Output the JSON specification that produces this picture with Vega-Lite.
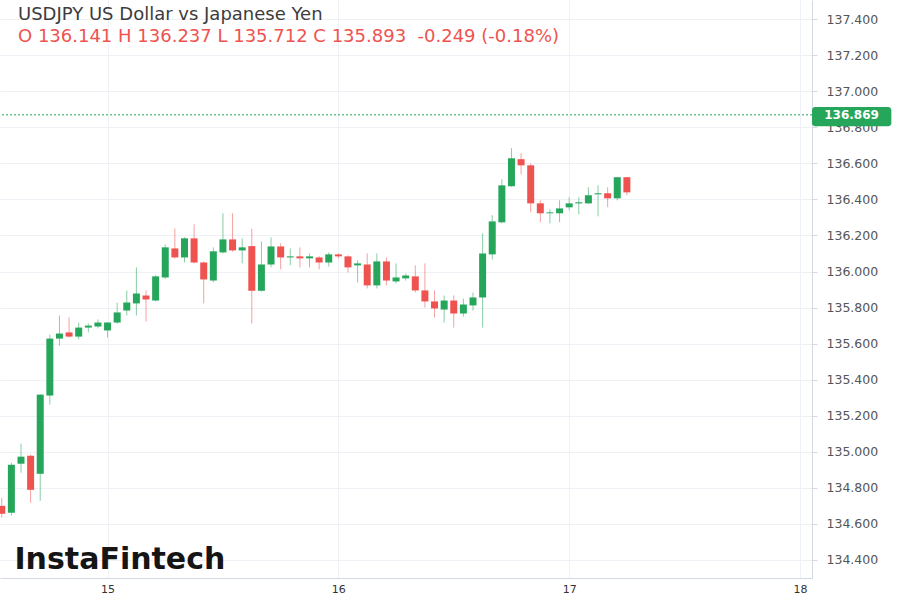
{
  "$schema": "https://vega.github.io/schema/vega-lite/v6.json",
  "width": 812,
  "height": 578,
  "padding": {"left": 0, "top": 0, "right": 88, "bottom": 22},
  "autosize": {"type": "none"},
  "background": "white",
  "title": {
    "text": "USDJPY US Dollar vs Japanese Yen",
    "subtitle": "O 136.141 H 136.237 L 135.712 C 135.893\u00a0 -0.249 (-0.18%)",
    "anchor": "start",
    "frame": "group",
    "orient": "top",
    "offset": -46,
    "dx": 18,
    "font": "DejaVu Sans",
    "fontSize": 18,
    "fontWeight": "normal",
    "color": "#3c3c3c",
    "subtitleFont": "DejaVu Sans",
    "subtitleFontSize": 18,
    "subtitleColor": "#ef5350",
    "subtitlePadding": 4
  },
  "config": {
    "view": {"stroke": null},
    "axis": {"gridColor": "#eef1f6", "domainColor": "#d3d9e3", "tickColor": "#d3d9e3", "labelFont": "DejaVu Sans", "title": null},
    "axisY": {"labelOverlap": false}
  },
  "data": {
    "values": [
      {"t": "2022-06-14T13:00:00Z", "o": 134.700, "h": 134.745, "l": 134.634, "c": 134.656},
      {"t": "2022-06-14T14:00:00Z", "o": 134.662, "h": 134.939, "l": 134.645, "c": 134.928},
      {"t": "2022-06-14T15:00:00Z", "o": 134.934, "h": 135.045, "l": 134.884, "c": 134.973},
      {"t": "2022-06-14T16:00:00Z", "o": 134.978, "h": 134.984, "l": 134.717, "c": 134.789},
      {"t": "2022-06-14T17:00:00Z", "o": 134.878, "h": 135.320, "l": 134.728, "c": 135.317},
      {"t": "2022-06-14T18:00:00Z", "o": 135.312, "h": 135.650, "l": 135.262, "c": 135.628},
      {"t": "2022-06-14T19:00:00Z", "o": 135.628, "h": 135.756, "l": 135.589, "c": 135.656},
      {"t": "2022-06-14T20:00:00Z", "o": 135.662, "h": 135.745, "l": 135.634, "c": 135.639},
      {"t": "2022-06-14T21:00:00Z", "o": 135.639, "h": 135.717, "l": 135.623, "c": 135.689},
      {"t": "2022-06-14T22:00:00Z", "o": 135.689, "h": 135.712, "l": 135.662, "c": 135.700},
      {"t": "2022-06-14T23:00:00Z", "o": 135.695, "h": 135.734, "l": 135.684, "c": 135.717},
      {"t": "2022-06-15T00:00:00Z", "o": 135.673, "h": 135.720, "l": 135.634, "c": 135.717},
      {"t": "2022-06-15T01:00:00Z", "o": 135.717, "h": 135.828, "l": 135.710, "c": 135.773},
      {"t": "2022-06-15T02:00:00Z", "o": 135.784, "h": 135.895, "l": 135.756, "c": 135.828},
      {"t": "2022-06-15T03:00:00Z", "o": 135.823, "h": 136.023, "l": 135.756, "c": 135.878},
      {"t": "2022-06-15T04:00:00Z", "o": 135.867, "h": 135.895, "l": 135.723, "c": 135.845},
      {"t": "2022-06-15T05:00:00Z", "o": 135.839, "h": 135.980, "l": 135.835, "c": 135.973},
      {"t": "2022-06-15T06:00:00Z", "o": 135.967, "h": 136.150, "l": 135.960, "c": 136.134},
      {"t": "2022-06-15T07:00:00Z", "o": 136.128, "h": 136.239, "l": 136.073, "c": 136.078},
      {"t": "2022-06-15T08:00:00Z", "o": 136.078, "h": 136.190, "l": 136.050, "c": 136.184},
      {"t": "2022-06-15T09:00:00Z", "o": 136.184, "h": 136.262, "l": 136.045, "c": 136.050},
      {"t": "2022-06-15T10:00:00Z", "o": 136.050, "h": 136.055, "l": 135.823, "c": 135.956},
      {"t": "2022-06-15T11:00:00Z", "o": 135.950, "h": 136.134, "l": 135.939, "c": 136.112},
      {"t": "2022-06-15T12:00:00Z", "o": 136.106, "h": 136.323, "l": 136.100, "c": 136.178},
      {"t": "2022-06-15T13:00:00Z", "o": 136.178, "h": 136.323, "l": 136.110, "c": 136.117},
      {"t": "2022-06-15T14:00:00Z", "o": 136.117, "h": 136.184, "l": 136.045, "c": 136.134},
      {"t": "2022-06-15T15:00:00Z", "o": 136.141, "h": 136.237, "l": 135.712, "c": 135.893},
      {"t": "2022-06-15T16:00:00Z", "o": 135.893, "h": 136.167, "l": 135.890, "c": 136.039},
      {"t": "2022-06-15T17:00:00Z", "o": 136.039, "h": 136.189, "l": 136.023, "c": 136.139},
      {"t": "2022-06-15T18:00:00Z", "o": 136.139, "h": 136.156, "l": 136.012, "c": 136.078},
      {"t": "2022-06-15T19:00:00Z", "o": 136.078, "h": 136.128, "l": 136.034, "c": 136.084},
      {"t": "2022-06-15T20:00:00Z", "o": 136.084, "h": 136.134, "l": 136.023, "c": 136.073},
      {"t": "2022-06-15T21:00:00Z", "o": 136.073, "h": 136.100, "l": 136.023, "c": 136.084},
      {"t": "2022-06-15T22:00:00Z", "o": 136.078, "h": 136.085, "l": 136.012, "c": 136.050},
      {"t": "2022-06-15T23:00:00Z", "o": 136.050, "h": 136.106, "l": 136.028, "c": 136.095},
      {"t": "2022-06-16T00:00:00Z", "o": 136.095, "h": 136.100, "l": 136.073, "c": 136.084},
      {"t": "2022-06-16T01:00:00Z", "o": 136.084, "h": 136.090, "l": 135.995, "c": 136.023},
      {"t": "2022-06-16T02:00:00Z", "o": 136.034, "h": 136.062, "l": 135.939, "c": 136.045},
      {"t": "2022-06-16T03:00:00Z", "o": 136.039, "h": 136.100, "l": 135.906, "c": 135.923},
      {"t": "2022-06-16T04:00:00Z", "o": 135.923, "h": 136.100, "l": 135.906, "c": 136.056},
      {"t": "2022-06-16T05:00:00Z", "o": 136.056, "h": 136.078, "l": 135.923, "c": 135.950},
      {"t": "2022-06-16T06:00:00Z", "o": 135.945, "h": 136.045, "l": 135.934, "c": 135.967},
      {"t": "2022-06-16T07:00:00Z", "o": 135.962, "h": 135.989, "l": 135.950, "c": 135.978},
      {"t": "2022-06-16T08:00:00Z", "o": 135.973, "h": 136.034, "l": 135.884, "c": 135.895},
      {"t": "2022-06-16T09:00:00Z", "o": 135.895, "h": 136.045, "l": 135.800, "c": 135.834},
      {"t": "2022-06-16T10:00:00Z", "o": 135.834, "h": 135.895, "l": 135.745, "c": 135.795},
      {"t": "2022-06-16T11:00:00Z", "o": 135.789, "h": 135.867, "l": 135.717, "c": 135.839},
      {"t": "2022-06-16T12:00:00Z", "o": 135.839, "h": 135.867, "l": 135.689, "c": 135.767},
      {"t": "2022-06-16T13:00:00Z", "o": 135.767, "h": 135.850, "l": 135.750, "c": 135.817},
      {"t": "2022-06-16T14:00:00Z", "o": 135.812, "h": 135.884, "l": 135.784, "c": 135.856},
      {"t": "2022-06-16T15:00:00Z", "o": 135.856, "h": 136.212, "l": 135.689, "c": 136.100},
      {"t": "2022-06-16T16:00:00Z", "o": 136.095, "h": 136.312, "l": 136.067, "c": 136.278},
      {"t": "2022-06-16T17:00:00Z", "o": 136.273, "h": 136.512, "l": 136.267, "c": 136.478},
      {"t": "2022-06-16T18:00:00Z", "o": 136.473, "h": 136.684, "l": 136.470, "c": 136.628},
      {"t": "2022-06-16T19:00:00Z", "o": 136.623, "h": 136.656, "l": 136.539, "c": 136.589},
      {"t": "2022-06-16T20:00:00Z", "o": 136.589, "h": 136.600, "l": 136.328, "c": 136.378},
      {"t": "2022-06-16T21:00:00Z", "o": 136.378, "h": 136.395, "l": 136.273, "c": 136.323},
      {"t": "2022-06-16T22:00:00Z", "o": 136.323, "h": 136.345, "l": 136.267, "c": 136.328},
      {"t": "2022-06-16T23:00:00Z", "o": 136.323, "h": 136.395, "l": 136.273, "c": 136.350},
      {"t": "2022-06-17T00:00:00Z", "o": 136.356, "h": 136.412, "l": 136.339, "c": 136.378},
      {"t": "2022-06-17T01:00:00Z", "o": 136.378, "h": 136.412, "l": 136.317, "c": 136.384},
      {"t": "2022-06-17T02:00:00Z", "o": 136.378, "h": 136.467, "l": 136.375, "c": 136.423},
      {"t": "2022-06-17T03:00:00Z", "o": 136.428, "h": 136.478, "l": 136.306, "c": 136.434},
      {"t": "2022-06-17T04:00:00Z", "o": 136.434, "h": 136.467, "l": 136.356, "c": 136.406},
      {"t": "2022-06-17T05:00:00Z", "o": 136.406, "h": 136.525, "l": 136.395, "c": 136.523},
      {"t": "2022-06-17T06:00:00Z", "o": 136.523, "h": 136.525, "l": 136.423, "c": 136.439}
    ]
  },
  "layer": [
    {
      "mark": {"type": "rule", "strokeWidth": 1, "opacity": 0.55, "clip": true},
      "encoding": {
        "x": {
          "field": "t", "type": "temporal", "title": null,
          "scale": {"type": "utc", "domain": [{"year": 2022, "month": 6, "date": 14, "hours": 12, "minutes": 49, "utc": true}, {"year": 2022, "month": 6, "date": 18, "hours": 1, "minutes": 15, "utc": true}], "nice": false, "padding": 0},
          "axis": {
            "orient": "bottom",
            "values": [{"year": 2022, "month": 6, "date": 15, "utc": true}, {"year": 2022, "month": 6, "date": 16, "utc": true}, {"year": 2022, "month": 6, "date": 17, "utc": true}, {"year": 2022, "month": 6, "date": 18, "utc": true}],
            "tickCount": 10,
            "format": "%-d",
            "grid": true,
            "ticks": false,
            "labelPadding": 5,
            "labelFontSize": 11,
            "labelColor": "#333333"
          }
        },
        "y": {
          "field": "l", "type": "quantitative", "title": null,
          "scale": {"domain": [134.3, 137.506], "nice": false, "zero": false},
          "axis": {
            "orient": "right",
            "values": [134.4, 134.6, 134.8, 135.0, 135.2, 135.4, 135.6, 135.8, 136.0, 136.2, 136.4, 136.6, 136.8, 137.0, 137.2, 137.4],
            "tickCount": 40,
            "format": ".3f",
            "grid": true,
            "labelOverlap": false,
            "tickSize": 5,
            "labelPadding": 9,
            "labelFontSize": 12.5,
            "labelColor": "#555555"
          }
        },
        "y2": {"field": "h"},
        "color": {"condition": {"test": "datum.c >= datum.o", "value": "#26a65b"}, "value": "#ef5350"}
      }
    },
    {
      "mark": {"type": "bar", "width": 7, "clip": true},
      "encoding": {
        "x": {"field": "t", "type": "temporal", "title": null},
        "y": {"field": "o", "type": "quantitative", "title": null},
        "y2": {"field": "c"},
        "color": {"condition": {"test": "datum.c >= datum.o", "value": "#26a65b"}, "value": "#ef5350"}
      }
    },
    {
      "data": {"values": [{"price": 136.869}]},
      "mark": {"type": "rule", "color": "#26a65b", "strokeWidth": 1, "strokeDash": [2, 2]},
      "encoding": {
        "y": {"field": "price", "type": "quantitative", "title": null}
      }
    },
    {
      "data": {"values": [{"price": 136.869, "top": 136.912, "bottom": 136.806, "label": "136.869"}]},
      "mark": {"type": "rect", "color": "#26a65b", "cornerRadius": 3},
      "encoding": {
        "x": {"datum": {"year": 2022, "month": 6, "date": 18, "hours": 1, "minutes": 15, "utc": true}, "type": "temporal", "title": null},
        "x2": {"datum": {"year": 2022, "month": 6, "date": 18, "hours": 9, "minutes": 30, "utc": true}},
        "y": {"field": "top", "type": "quantitative", "title": null},
        "y2": {"field": "bottom"}
      }
    },
    {
      "data": {"values": [{"price": 136.869, "label": "136.869"}]},
      "mark": {"type": "text", "color": "white", "font": "DejaVu Sans", "fontSize": 12, "fontWeight": "bold", "align": "center", "baseline": "middle"},
      "encoding": {
        "x": {"datum": {"year": 2022, "month": 6, "date": 18, "hours": 5, "minutes": 22, "utc": true}, "type": "temporal", "title": null},
        "y": {"field": "price", "type": "quantitative", "title": null},
        "text": {"field": "label"}
      }
    },
    {
      "data": {"values": [{"brand": "InstaFintech"}]},
      "mark": {"type": "text", "color": "#151515", "font": "DejaVu Sans", "fontSize": 30, "fontWeight": "bold", "align": "left", "baseline": "middle"},
      "encoding": {
        "x": {"datum": {"year": 2022, "month": 6, "date": 14, "hours": 14, "minutes": 19, "utc": true}, "type": "temporal", "title": null},
        "y": {"datum": 134.4, "type": "quantitative", "title": null},
        "text": {"field": "brand"}
      }
    }
  ]
}
